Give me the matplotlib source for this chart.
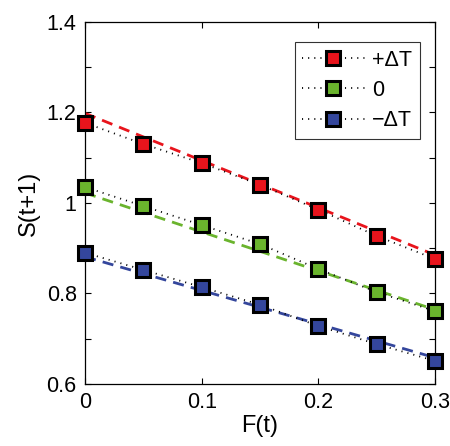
import numpy as np
import matplotlib.pyplot as plt

plt.rcParams["font.family"] = ["Liberation Sans", "DejaVu Sans"]

f_t = [0, 0.05, 0.1, 0.15, 0.2, 0.25, 0.3]
s_plus = [1.177, 1.130, 1.088, 1.040, 0.985, 0.927, 0.876]
s_zero = [1.035, 0.993, 0.951, 0.909, 0.854, 0.803, 0.761]
s_minus = [0.890, 0.852, 0.814, 0.775, 0.728, 0.688, 0.651]

# dashed fit lines, values at F=0 and F=0.3
fit_x = [0, 0.3]
fit_plus = [1.198, 0.885]
fit_zero = [1.022, 0.764]
fit_minus = [0.881, 0.658]

labels = ["+\u0394T", "0", "\u2212\u0394T"]
colors = ["#e8141c", "#6ab42d", "#34469c"]

fig = plt.figure(figsize=(4.5, 4.46), dpi=100)
ax = fig.add_axes([0.189, 0.139, 0.778, 0.812])

series = [s_plus, s_zero, s_minus]
fits = [fit_plus, fit_zero, fit_minus]
for s, fit, c, lab in zip(series, fits, colors, labels):
    ax.plot(fit_x, fit, color=c, lw=2.0, ls=(0, (4, 2.6)), zorder=2)
    ax.plot(f_t, s, color="black", lw=1.3, ls=(0, (0.6, 2.8)), marker="s",
            ms=10.5, mfc=c, mec="black", mew=2.2, label=lab, zorder=3,
            clip_on=False)

ax.set_xlim(0, 0.3)
ax.set_ylim(0.6, 1.4)
ax.set_xticks([0, 0.1, 0.2, 0.3])
ax.set_xticklabels(["0", "0.1", "0.2", "0.3"])
ax.set_yticks(np.arange(0.6, 1.41, 0.1))
ax.set_yticklabels(["0.6", "", "0.8", "", "1", "", "1.2", "", "1.4"])
ax.tick_params(direction="in", length=4, width=0.8, top=True, right=True,
               labelsize=15.5, pad=6)
ax.set_xlabel("F(t)", fontsize=17, labelpad=1)
ax.set_ylabel("S(t+1)", fontsize=17, labelpad=5)
for sp in ax.spines.values():
    sp.set_linewidth(0.9)

leg = ax.legend(loc="upper right", bbox_to_anchor=(0.968, 0.955), fontsize=15.5,
                frameon=True, fancybox=False, edgecolor="black",
                handlelength=2.9, handletextpad=0.35, borderpad=0.35,
                labelspacing=0.42, borderaxespad=0.2)
leg.get_frame().set_linewidth(0.8)

fig.savefig("out.png", dpi=100)
